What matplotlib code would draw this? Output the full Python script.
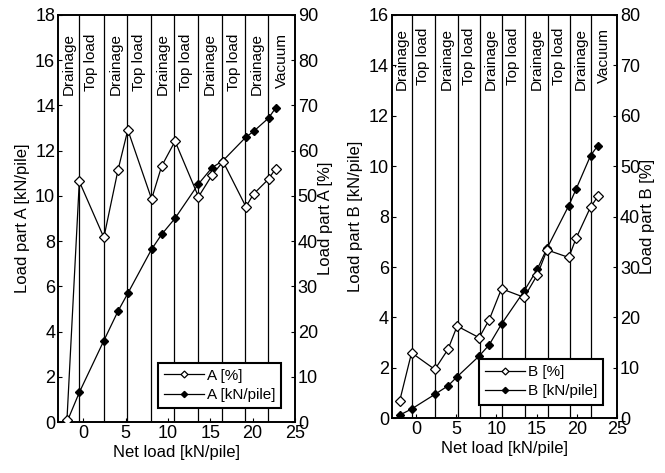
import matplotlib
matplotlib.use('Agg')
import matplotlib.pyplot as plt
import matplotlib.transforms as mtransforms

plt.rcParams['font.family'] = ['Liberation Sans', 'DejaVu Sans']
plt.rcParams['xtick.direction'] = 'in'
plt.rcParams['ytick.direction'] = 'in'

# stage boundaries and names (net load, kN/pile)
stage_lines = [-0.5, 2.4, 5.2, 8.0, 10.7, 13.55, 16.4, 19.1, 21.8]
stage_names = ['Drainage', 'Top load', 'Drainage', 'Top load', 'Drainage',
               'Top load', 'Drainage', 'Top load', 'Drainage', 'Vacuum']

# part A
a_x = [-1.94, -0.48, 2.42, 4.1, 5.25, 8.06, 9.25, 10.83, 13.6, 15.2, 16.5,
       19.2, 20.1, 21.87, 22.7]
a_pct = [0.5, 53.2, 40.8, 55.8, 64.6, 49.3, 56.6, 62.1, 49.8, 54.6, 57.6,
         47.6, 50.4, 53.7, 56.0]
a_kn = [0.0, 1.31, 3.6, 4.91, 5.69, 7.64, 8.3, 9.01, 10.53, 11.25, 11.56,
        12.6, 12.85, 13.44, 13.88]

# part B
b_x = [-2.0, -0.53, 2.36, 4.0, 5.13, 7.86, 9.1, 10.64, 13.45, 15.07, 16.3,
       19.0, 19.9, 21.7, 22.6]
b_pct = [3.5, 13.0, 9.7, 13.7, 18.3, 16.0, 19.5, 25.7, 24.0, 28.4, 33.4,
         31.9, 35.7, 41.9, 44.0]
b_kn = [0.13, 0.37, 0.95, 1.29, 1.65, 2.47, 2.91, 3.74, 5.05, 5.91, 6.75,
        8.44, 9.09, 10.42, 10.82]

fig = plt.figure(figsize=(6.65, 4.73), dpi=100)


def panel(rect, x, pct, kn, kmax, pmax, name, label_y):
    ax = fig.add_axes(rect)
    ax2 = ax.twinx()
    ax.set_zorder(ax2.get_zorder() + 1)
    ax.patch.set_visible(False)

    for xv in stage_lines:
        ax.axvline(xv, color='black', lw=0.9, zorder=1)
    bounds = [-3] + stage_lines + [25]
    trans = mtransforms.blended_transform_factory(ax.transData, ax.transAxes)
    for i, s in enumerate(stage_names):
        xm = (bounds[i] + bounds[i + 1]) / 2
        ax.text(xm, label_y, s, rotation=90, ha='center', va='top',
                fontsize=11, transform=trans)

    l1, = ax.plot(x, [p * kmax / pmax for p in pct], '-', color='black',
                  lw=0.9, marker='D', ms=5, mfc='white', mec='black',
                  mew=0.9, zorder=4)
    l2, = ax.plot(x, kn, '-', color='black', lw=0.9, marker='D', ms=4.5,
                  mfc='black', mec='black', zorder=3)

    ax.set_xlim(-3, 25)
    ax.set_ylim(0, kmax)
    ax2.set_ylim(0, pmax)
    ax.set_xticks([0, 5, 10, 15, 20, 25])
    ax.set_yticks(range(0, kmax + 1, 2))
    ax2.set_yticks(range(0, pmax + 1, 10))
    for a in (ax, ax2):
        a.tick_params(labelsize=13, length=3, width=0.8, pad=2)
        for sp in a.spines.values():
            sp.set_linewidth(1.2)
    ax.set_xlabel('Net load [kN/pile]', fontsize=12, labelpad=2)
    ax.set_ylabel('Load part %s [kN/pile]' % name, fontsize=12, labelpad=4)
    ax2.set_ylabel('Load part %s [%%]' % name, fontsize=12, labelpad=0)

    leg = ax.legend([l1, l2], ['%s [%%]' % name, '%s [kN/pile]' % name],
                    loc='lower right', fontsize=11, frameon=True,
                    fancybox=False, edgecolor='black', framealpha=1,
                    handlelength=2.6, borderaxespad=0.9, handletextpad=0.2,
                    labelspacing=0.35, markerscale=0.7, borderpad=0.4)
    leg.get_frame().set_linewidth(1.5)
    leg.set_zorder(10)
    return ax


panel([0.0872, 0.1078, 0.3564, 0.8605], a_x, a_pct, a_kn, 18, 90, 'A', 0.955)
panel([0.589, 0.1156, 0.339, 0.8527], b_x, b_pct, b_kn, 16, 80, 'B', 0.968)

fig.savefig('out.png', dpi=100)
